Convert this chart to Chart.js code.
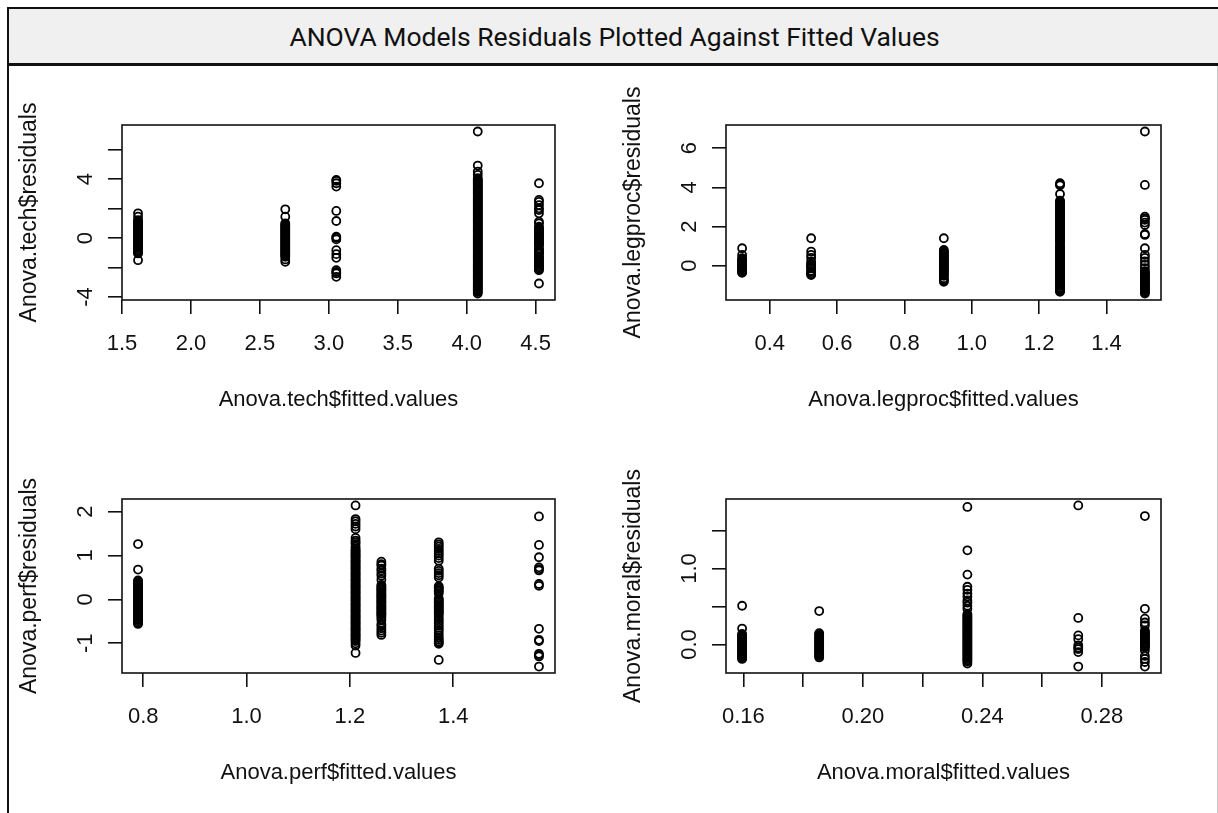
<!DOCTYPE html>
<html>
<head>
<meta charset="utf-8">
<title>ANOVA Models Residuals Plotted Against Fitted Values</title>
<script src="https://cdn.jsdelivr.net/npm/chart.js@4.4.1/dist/chart.umd.min.js"></script>
<style>
  html, body { margin: 0; padding: 0; background: #ffffff; }
  body { width: 1218px; height: 813px; position: relative; overflow: hidden; }
  #header {
    position: absolute; left: 7px; top: 7px; width: 1211px; height: 54px;
    box-sizing: content-box;
    background: #f0f0f0;
    border-top: 2px solid #111; border-left: 2px solid #111; border-bottom: 3px solid #111;
    font-family: Roboto, "Open Sans", sans-serif; font-size: 26.5px; font-weight: 400; color: #111;
    line-height: 56px; text-align: center;
  }
  #frame {
    position: absolute; left: 7px; top: 66px; width: 1208px; height: 760px;
    border-left: 2px solid #111; border-right: 1px solid #c8c8c8;
  }
  canvas { position: absolute; }
</style>
</head>
<body>
<div id="header">ANOVA Models Residuals Plotted Against Fitted Values</div>
<div id="frame"></div>
<canvas id="tech"></canvas>
<canvas id="legproc"></canvas>
<canvas id="perf"></canvas>
<canvas id="moral"></canvas>
<script>
// ---- Anova.tech ----
const techFitted = [1.616, 2.684, 3.054, 4.080, 4.524];
const techResiduals = [
  [1.68, 1.45, 1.22, 1.14, 1.07, 0.99, 0.93, 0.85, 0.77, 0.70, 0.62, 0.55, 0.47, 0.40, 0.31, 0.24, 0.16, 0.09, 0.01,
   -0.06, -0.14, -0.22, -0.29, -0.37, -0.44, -0.52, -0.60, -0.67, -0.75, -0.82, -0.90, -0.97, -1.04, -1.50],
  [1.95, 1.45, 1.00, 0.93, 0.85, 0.78, 0.70, 0.62, 0.55, 0.47, 0.40, 0.32, 0.25, 0.17, 0.09, 0.02, -0.06, -0.13,
   -0.21, -0.29, -0.36, -0.44, -0.51, -0.59, -0.66, -0.74, -0.82, -0.89, -0.97, -1.04, -1.12, -1.19, -1.27, -1.45, -1.61],
  [3.95, 3.88, 3.72, 3.49, 1.84, 1.16, 0.09, 0.02, -0.09, -0.82, -1.09, -1.34, -2.18, -2.30, -2.40, -2.63],
  [7.23, 4.92, 4.51, 4.29, 4.06, 3.98, 3.91, 3.83, 3.76, 3.68, 3.61, 3.53, 3.45, 3.38, 3.30, 3.23, 3.15, 3.08, 3.00,
   2.92, 2.85, 2.77, 2.70, 2.62, 2.55, 2.47, 2.39, 2.32, 2.24, 2.17, 2.09, 2.02, 1.94, 1.86, 1.79, 1.71, 1.64, 1.56,
   1.49, 1.41, 1.33, 1.26, 1.18, 1.11, 1.03, 0.96, 0.88, 0.80, 0.73, 0.65, 0.58, 0.50, 0.43, 0.35, 0.27, 0.20, 0.12,
   0.05, -0.03, -0.10, -0.18, -0.26, -0.33, -0.41, -0.48, -0.56, -0.63, -0.71, -0.79, -0.86, -0.94, -1.01, -1.09,
   -1.16, -1.24, -1.32, -1.39, -1.47, -1.54, -1.62, -1.69, -1.77, -1.85, -1.92, -2.00, -2.07, -2.15, -2.22, -2.30,
   -2.38, -2.45, -2.53, -2.60, -2.68, -2.75, -2.83, -2.91, -2.98, -3.06, -3.13, -3.21, -3.28, -3.36, -3.44, -3.51,
   -3.59, -3.66, -3.76],
  [3.72, 2.59, 2.45, 2.24, 2.02, 1.90, 1.68, 1.11, 1.00, 0.77, 0.70, 0.62, 0.55, 0.47, 0.39, 0.32, 0.24, 0.17, 0.09,
   0.02, -0.06, -0.13, -0.21, -0.28, -0.36, -0.43, -0.48, -0.70, -0.77, -0.85, -0.92, -1.00, -1.07, -1.23, -1.30,
   -1.38, -1.45, -1.53, -1.60, -1.68, -1.75, -1.83, -1.90, -1.98, -2.05, -2.12, -2.18, -3.08]
];
const techXTicks = [1.5, 2.0, 2.5, 3.0, 3.5, 4.0, 4.5];
const techXLabels = ['1.5', '2.0', '2.5', '3.0', '3.5', '4.0', '4.5'];
const techYTicks = [-4, -2, 0, 2, 4, 6];
const techYLabels = ['-4', '', '0', '', '4', ''];

// ---- Anova.legproc ----
const legprocFitted = [0.318, 0.523, 0.917, 1.262, 1.514];
const legprocResiduals = [
  [0.89, 0.55, 0.38, 0.32, 0.26, 0.20, 0.14, 0.08, 0.02, -0.04, -0.10, -0.16, -0.22, -0.27, -0.32, -0.36],
  [1.40, 0.72, 0.55, 0.40, 0.22, 0.10, 0.04, -0.02, -0.08, -0.14, -0.26, -0.32, -0.38, -0.44, -0.48],
  [1.40, 0.80, 0.74, 0.68, 0.62, 0.56, 0.50, 0.44, 0.38, 0.32, 0.26, 0.20, 0.14, 0.08, 0.02, -0.04, -0.10, -0.16,
   -0.22, -0.28, -0.34, -0.40, -0.46, -0.52, -0.64, -0.70, -0.76, -0.82],
  [4.21, 4.15, 4.10, 3.66, 3.32, 3.27, 3.21, 3.15, 3.09, 3.03, 2.96, 2.90, 2.84, 2.78, 2.72, 2.66, 2.60, 2.53, 2.47,
   2.41, 2.35, 2.29, 2.23, 2.16, 2.10, 2.04, 1.98, 1.92, 1.86, 1.79, 1.73, 1.67, 1.61, 1.55, 1.49, 1.42, 1.36, 1.30,
   1.24, 1.18, 1.05, 0.99, 0.93, 0.87, 0.81, 0.74, 0.68, 0.62, 0.56, 0.50, 0.44, 0.37, 0.31, 0.25, 0.19, 0.13, 0.07,
   0.00, -0.06, -0.12, -0.18, -0.24, -0.30, -0.37, -0.43, -0.49, -0.55, -0.61, -0.67, -0.74, -0.80, -0.86, -0.92,
   -0.98, -1.04, -1.11, -1.17, -1.23, -1.29, -1.33],
  [6.85, 4.12, 2.50, 2.42, 2.34, 2.20, 2.08, 1.62, 1.57, 0.89, 0.55, 0.40, 0.22, 0.04, -0.12, -0.28, -0.34, -0.40,
   -0.46, -0.52, -0.58, -0.64, -0.70, -0.76, -0.82, -0.88, -0.94, -1.00, -1.06, -1.12, -1.18, -1.24, -1.30, -1.36,
   -1.42]
];
const legprocXTicks = [0.4, 0.6, 0.8, 1.0, 1.2, 1.4];
const legprocXLabels = ['0.4', '0.6', '0.8', '1.0', '1.2', '1.4'];
const legprocYTicks = [0, 2, 4, 6];
const legprocYLabels = ['0', '2', '4', '6'];

// ---- Anova.perf ----
const perfFitted = [0.790, 1.211, 1.261, 1.372, 1.566];
const perfResiduals = [
  [1.26, 0.68, 0.43, 0.40, 0.37, 0.34, 0.32, 0.29, 0.26, 0.23, 0.20, 0.18, 0.15, 0.12, 0.09, 0.06, 0.04, 0.01,
   -0.02, -0.05, -0.08, -0.10, -0.13, -0.16, -0.19, -0.22, -0.24, -0.27, -0.30, -0.33, -0.36, -0.38, -0.41, -0.44,
   -0.47, -0.50, -0.53, -0.56],
  [2.14, 1.83, 1.78, 1.72, 1.66, 1.60, 1.40, 1.34, 1.30, 1.26, 1.20, 1.16, 1.12, 1.10, 1.07, 1.04, 1.01, 0.99, 0.96,
   0.93, 0.90, 0.87, 0.85, 0.82, 0.79, 0.76, 0.73, 0.71, 0.68, 0.65, 0.62, 0.59, 0.57, 0.54, 0.51, 0.48, 0.45, 0.43,
   0.40, 0.37, 0.34, 0.31, 0.29, 0.26, 0.23, 0.20, 0.17, 0.15, 0.12, 0.09, 0.06, 0.03, 0.01, -0.02, -0.05, -0.08,
   -0.11, -0.13, -0.16, -0.19, -0.22, -0.25, -0.27, -0.30, -0.33, -0.36, -0.39, -0.41, -0.44, -0.47, -0.50, -0.53,
   -0.55, -0.58, -0.61, -0.64, -0.67, -0.69, -0.72, -0.75, -0.78, -0.81, -0.83, -0.86, -0.89, -0.92, -0.95, -1.00,
   -1.05, -1.22],
  [0.86, 0.80, 0.77, 0.70, 0.66, 0.59, 0.54, 0.45, 0.33, 0.30, 0.27, 0.24, 0.22, 0.19, 0.16, 0.13, 0.10, 0.08, 0.05,
   0.02, -0.01, -0.04, -0.06, -0.09, -0.12, -0.15, -0.18, -0.20, -0.23, -0.26, -0.29, -0.32, -0.34, -0.37, -0.41,
   -0.47, -0.56, -0.60, -0.66, -0.71, -0.76, -0.81],
  [1.30, 1.25, 1.20, 1.15, 1.10, 1.05, 1.00, 0.94, 0.88, 0.70, 0.65, 0.60, 0.55, 0.50, 0.30, 0.27, 0.24, 0.21, 0.18,
   0.14, 0.02, -0.01, -0.04, -0.07, -0.10, -0.13, -0.16, -0.19, -0.22, -0.25, -0.28, -0.31, -0.34, -0.40, -0.45,
   -0.50, -0.55, -0.60, -0.65, -0.70, -0.76, -0.82, -0.88, -0.92, -0.96, -0.99, -1.01, -1.38],
  [1.89, 1.24, 0.96, 0.73, 0.69, 0.66, 0.35, 0.31, -0.67, -0.92, -0.95, -1.24, -1.27, -1.30, -1.53]
];
const perfXTicks = [0.8, 1.0, 1.2, 1.4];
const perfXLabels = ['0.8', '1.0', '1.2', '1.4'];
const perfYTicks = [-1, 0, 1, 2];
const perfYLabels = ['-1', '0', '1', '2'];

// ---- Anova.moral ----
const moralFitted = [0.1596, 0.1854, 0.2350, 0.2721, 0.2944];
const moralResiduals = [
  [0.51, 0.21, 0.14, 0.124, 0.108, 0.092, 0.076, 0.06, 0.044, 0.028, 0.012, -0.004, -0.02, -0.036, -0.052, -0.068,
   -0.084, -0.10, -0.116, -0.132, -0.148, -0.164, -0.18, -0.19],
  [0.44, 0.15, 0.134, 0.118, 0.102, 0.086, 0.07, 0.054, 0.038, 0.022, 0.006, -0.01, -0.026, -0.042, -0.058, -0.074,
   -0.09, -0.106, -0.122, -0.138, -0.154, -0.17],
  [1.81, 1.24, 0.92, 0.76, 0.72, 0.67, 0.63, 0.58, 0.55, 0.51, 0.47, 0.40, 0.384, 0.368, 0.352, 0.336, 0.32, 0.304,
   0.288, 0.272, 0.256, 0.24, 0.224, 0.208, 0.192, 0.176, 0.16, 0.144, 0.128, 0.112, 0.096, 0.08, 0.064, 0.048,
   0.032, 0.016, 0.0, -0.016, -0.032, -0.048, -0.064, -0.08, -0.096, -0.112, -0.128, -0.144, -0.16, -0.176, -0.192,
   -0.208, -0.224, -0.25],
  [1.83, 0.35, 0.12, 0.07, -0.01, -0.04, -0.06, -0.10, -0.29],
  [1.69, 0.47, 0.34, 0.29, 0.25, 0.18, 0.165, 0.15, 0.135, 0.12, 0.105, 0.09, 0.075, 0.06, 0.045, 0.03, 0.015, 0.0,
   -0.015, -0.03, -0.04, -0.08, -0.15, -0.19, -0.23, -0.29]
];
const moralXTicks = [0.16, 0.18, 0.20, 0.22, 0.24, 0.26, 0.28];
const moralXLabels = ['0.16', '', '0.20', '', '0.24', '', '0.28'];
const moralYTicks = [0, 0.5, 1.0, 1.5];
const moralYLabels = ['0.0', '', '1.0', ''];

// ---- drawing ----
const FONT = { family: '"Liberation Sans", Arial, sans-serif', size: 22, lineHeight: 1.2 };
const Y_TITLE_FONT = { family: FONT.family, size: 23, lineHeight: 1.2 };
const INK = '#111111';
const Y_AXIS_W = 112, X_AXIS_H = 130, PAD_TOP = 45, PAD_RIGHT = 30;

// R-style "r" axis range: data range widened by 4% at each end
function axisRange(values) {
  const lo = Math.min(...values), hi = Math.max(...values), pad = (hi - lo) * 0.04;
  return [lo - pad, hi + pad];
}

// Plot frame and rotated y tick labels, as in base R graphics
const rFrame = {
  id: 'rFrame',
  afterDraw(chart, args, opts) {
    const { ctx, chartArea: a, scales } = chart;
    ctx.save();
    ctx.strokeStyle = INK;
    ctx.lineWidth = 1.6;
    ctx.strokeRect(a.left, a.top, a.right - a.left, a.bottom - a.top);
    ctx.fillStyle = INK;
    ctx.font = FONT.size + 'px ' + FONT.family;
    ctx.textAlign = 'center';
    ctx.textBaseline = 'middle';
    opts.yTicks.forEach((v, i) => {
      const label = opts.yLabels[i];
      if (!label) return;
      ctx.save();
      ctx.translate(a.left - 36, scales.y.getPixelForValue(v));
      ctx.rotate(-Math.PI / 2);
      ctx.fillText(label, 0, 0);
      ctx.restore();
    });
    ctx.restore();
  }
};

function residualPanel(id, box, fitted, residuals, xTicks, xLabels, yTicks, yLabels, xTitle, yTitle) {
  const canvas = document.getElementById(id);
  const left = box.left - Y_AXIS_W, top = box.top - PAD_TOP;
  canvas.style.left = left + 'px';
  canvas.style.top = top + 'px';
  canvas.width = box.right + PAD_RIGHT - left;
  canvas.height = box.bottom + X_AXIS_H - top;

  const points = [];
  fitted.forEach((f, g) => residuals[g].forEach(r => points.push({ x: f, y: r })));
  const [xMin, xMax] = axisRange(fitted);
  const [yMin, yMax] = axisRange(residuals.flat());

  const tickGrid = { drawOnChartArea: false, drawTicks: true, tickLength: 14, color: INK, lineWidth: 1.6 };

  return new Chart(canvas, {
    type: 'scatter',
    data: {
      datasets: [{
        data: points,
        pointStyle: 'circle',
        pointRadius: 4.0,
        pointHoverRadius: 4.0,
        pointBorderWidth: 1.8,
        borderColor: '#000000',
        backgroundColor: 'rgba(0,0,0,0)'
      }]
    },
    options: {
      responsive: false,
      animation: false,
      events: [],
      devicePixelRatio: 1,
      layout: { autoPadding: false, padding: { top: PAD_TOP, right: PAD_RIGHT, left: 0, bottom: 0 } },
      plugins: {
        legend: { display: false },
        tooltip: { enabled: false },
        rFrame: { yTicks, yLabels }
      },
      scales: {
        x: {
          type: 'linear', position: 'bottom', min: xMin, max: xMax,
          afterBuildTicks: s => { s.ticks = xTicks.map(v => ({ value: v })); },
          afterFit: s => { s.height = X_AXIS_H; },
          ticks: {
            autoSkip: false, maxRotation: 0, minRotation: 0, padding: 16.8,
            font: FONT, color: INK,
            callback: (v, i) => xLabels[i]
          },
          grid: tickGrid,
          border: { display: false },
          title: { display: true, text: xTitle, font: FONT, color: INK, padding: { top: 0, bottom: 16.8 } }
        },
        y: {
          type: 'linear', position: 'left', min: yMin, max: yMax,
          afterBuildTicks: s => { s.ticks = yTicks.map(v => ({ value: v })); },
          afterFit: s => { s.width = Y_AXIS_W; },
          ticks: { display: false },
          grid: tickGrid,
          border: { display: false },
          title: { display: true, text: yTitle, font: Y_TITLE_FONT, color: INK, padding: { top: 6.2, bottom: 0 } }
        }
      }
    },
    plugins: [rFrame]
  });
}

residualPanel('tech', { left: 122, top: 125, right: 555, bottom: 300 },
  techFitted, techResiduals, techXTicks, techXLabels, techYTicks, techYLabels,
  'Anova.tech$fitted.values', 'Anova.tech$residuals');
residualPanel('legproc', { left: 726, top: 125, right: 1161, bottom: 300 },
  legprocFitted, legprocResiduals, legprocXTicks, legprocXLabels, legprocYTicks, legprocYLabels,
  'Anova.legproc$fitted.values', 'Anova.legproc$residuals');
residualPanel('perf', { left: 122, top: 499, right: 555, bottom: 673 },
  perfFitted, perfResiduals, perfXTicks, perfXLabels, perfYTicks, perfYLabels,
  'Anova.perf$fitted.values', 'Anova.perf$residuals');
residualPanel('moral', { left: 726, top: 499, right: 1161, bottom: 673 },
  moralFitted, moralResiduals, moralXTicks, moralXLabels, moralYTicks, moralYLabels,
  'Anova.moral$fitted.values', 'Anova.moral$residuals');
</script>
</body>
</html>
